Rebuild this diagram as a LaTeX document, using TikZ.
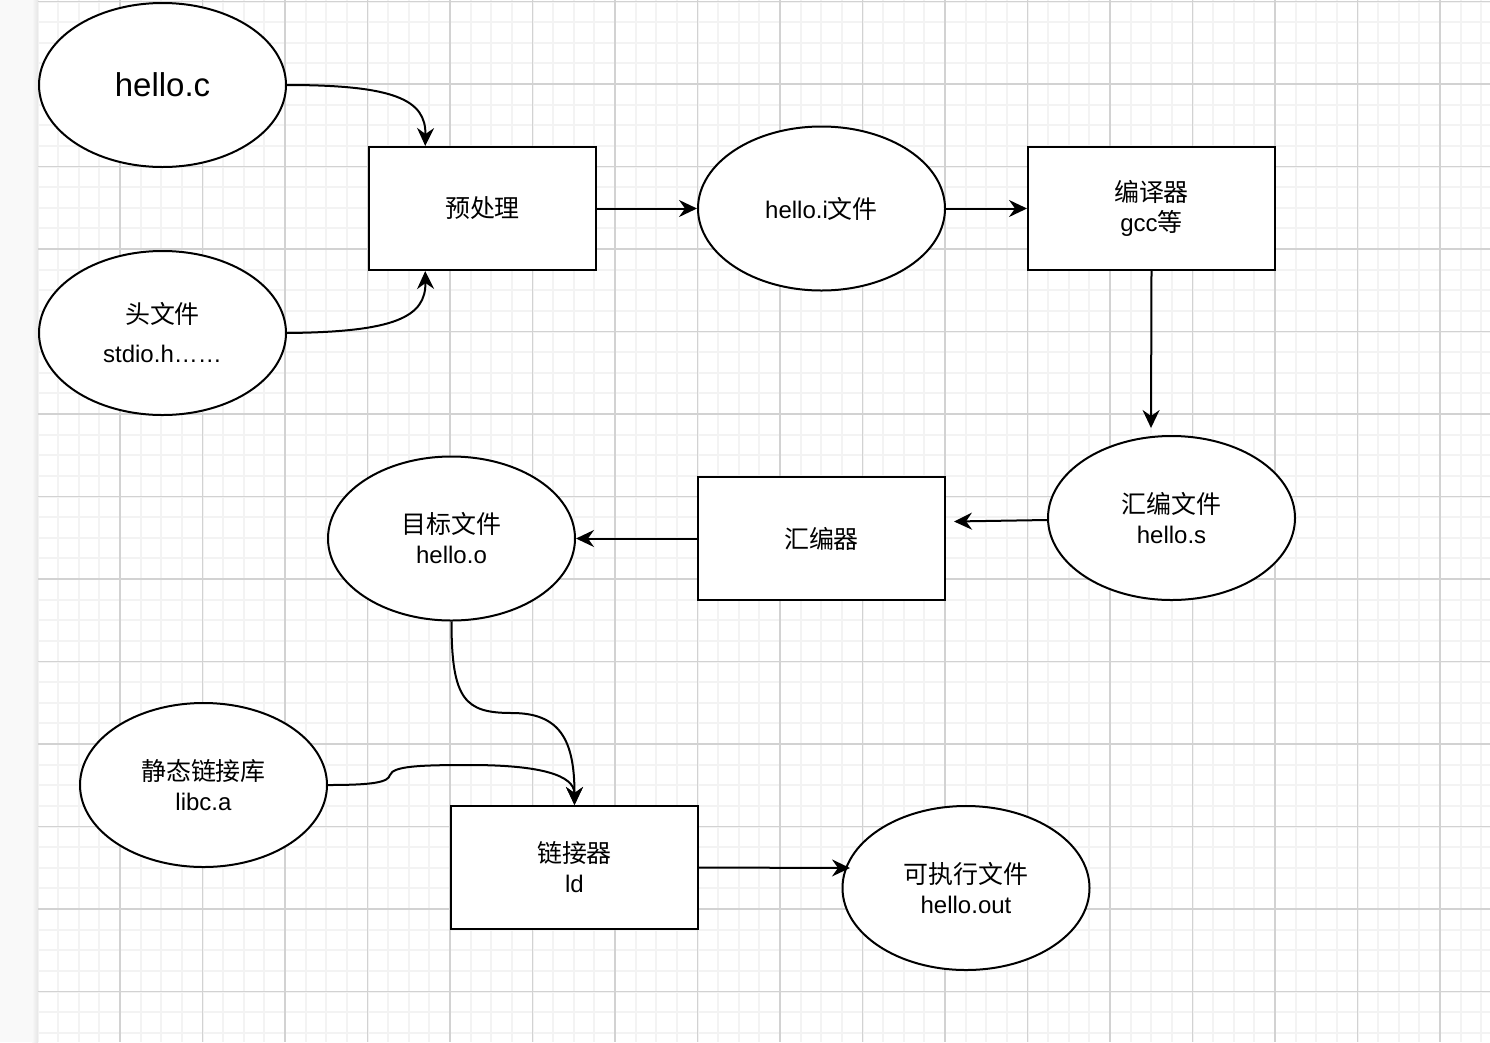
\documentclass[tikz,border=0pt]{standalone}
\usepackage{fontspec}
\setmainfont{Liberation Sans}
\newfontfamily\cjk[Scale=1.04]{Noto Sans CJK SC}
\usetikzlibrary{shapes.geometric,arrows.meta,calc}
\definecolor{minorc}{HTML}{F3F3F3}
\definecolor{majorc}{HTML}{D2D2D2}
\definecolor{stripc}{HTML}{F9F9F9}
\begin{document}
\begin{tikzpicture}[x=1pt,y=-1pt,
  txt/.style={font=\fontsize{24}{30}\selectfont, align=center},
  ell/.style={ellipse, draw, line width=2pt, fill=white, minimum width=247pt, minimum height=164pt, inner sep=0pt, txt},
  boxn/.style={rectangle, draw, line width=2pt, fill=white, minimum width=247pt, minimum height=123pt, inner sep=0pt, txt},
  conn/.style={line width=2pt, -{Stealth[length=18pt,width=17pt,inset=6pt]}},
  minorgrid/.style={minorc, line width=2pt},
  majorgrid/.style={majorc, line width=1.3pt}]
\useasboundingbox (0,0) rectangle (1490,1042);
% page background
\fill[stripc] (0,0) rectangle (38,1042);
\fill[white] (38,0) rectangle (1490,1042);
\shade[left color=stripc, right color=black!10] (32,0) rectangle (38,1042);
% grid
\begin{scope}
\clip (38,0) rectangle (1490,1042);
\foreach \k in {0,...,70} {\pgfmathsetmacro\xx{37.5+20.625*\k}\draw[minorgrid] (\xx,0) -- (\xx,1042);}
\foreach \k in {0,...,50} {\pgfmathsetmacro\yy{1.5+20.625*\k}\draw[minorgrid] (38,\yy) -- (1490,\yy);}
\foreach \k in {0,...,17} {\pgfmathsetmacro\xx{37.5+82.5*\k}\draw[majorgrid] (\xx,0) -- (\xx,1042);}
\foreach \k in {0,...,12} {\pgfmathsetmacro\yy{1.5+82.5*\k}\draw[majorgrid] (38,\yy) -- (1490,\yy);}
\end{scope}
% nodes
\node[ell, font=\fontsize{33}{36}\selectfont] (hc) at (162.5,85) {hello.c};
\node[ell] (hf) at (162.5,333) {{\cjk 头文件}\\[9pt]stdio.h\ldots\ldots};
\node[boxn, minimum width=227pt] (pre) at (482.5,208.5) {\cjk 预处理};
\node[ell] (hi) at (821.5,208.5) {hello.i{\cjk 文件}};
\node[boxn] (comp) at (1151.5,208.5) {{\cjk 编译器}\\gcc{\cjk 等}};
\node[ell] (asf) at (1171.5,518) {{\cjk 汇编文件}\\hello.s};
\node[boxn] (asm) at (821.5,538.5) {\cjk 汇编器};
\node[ell] (obj) at (451.5,538.5) {{\cjk 目标文件}\\hello.o};
\node[ell] (lib) at (203.5,785) {{\cjk 静态链接库}\\libc.a};
\node[boxn] (ld) at (574.5,867.5) {{\cjk 链接器}\\ld};
\node[ell] (exe) at (966,888) {{\cjk 可执行文件}\\hello.out};
% anchor points
\coordinate (preT) at ($(pre.north west)!0.25!(pre.north east)$);
\coordinate (preB) at ($(pre.south west)!0.25!(pre.south east)$);
\coordinate (asfIn) at (1151,428);
\coordinate (asmIn) at (954,521.5);
\coordinate (ldT) at (ld.north);
\coordinate (exeIn) at (850,868);
% connectors
\draw[conn] (hc.east) .. controls (395,85) and (426,100) .. (preT);
\draw[conn] (hf.east) .. controls (395,332) and (426,317) .. (preB);
\draw[conn] (pre.east) -- (hi.west);
\draw[conn] (hi.east) -- (comp.west);
\draw[conn] (comp.south) -- (asfIn);
\draw[conn] ($(asf.west)+(0,2)$) -- (asmIn);
\draw[conn] (asm.west) -- (obj.east);
\draw[conn] (obj.south) .. controls (451.5,700) and (465,713) .. (512,713) .. controls (560,713) and (574.5,740) .. (ldT);
\draw[conn] (lib.east) .. controls (375,785) and (388,782) .. (390,775) .. controls (393,766) and (420,765) .. (470,765) .. controls (540,765) and (574.5,775) .. (ldT);
\draw[conn] (ld.east) -- (exeIn);
\end{tikzpicture}
\end{document}
